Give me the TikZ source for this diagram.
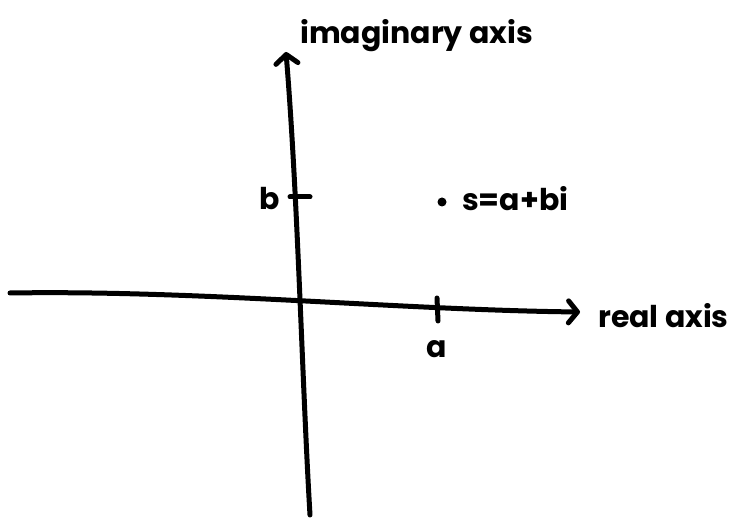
\documentclass[tikz,border=0pt]{standalone}
\usepackage{fontspec}
\setmainfont{Poppins}
\usetikzlibrary{arrows.meta}
\tikzset{
  axisline/.style={line width=5pt, line cap=round, line join=round,
    -{Straight Barb[length=9pt,width=22pt,line width=5pt,round]}},
  tickline/.style={line width=5pt, line cap=round},
  lbl/.style={font=\fontsize{30}{30}\selectfont\bfseries, inner sep=0pt},
}
\begin{document}
\begin{tikzpicture}[x=1pt,y=-1pt]
\useasboundingbox (0,0) rectangle (732,518);
% horizontal axis
\coordinate (hstart) at (10,293);
\coordinate (hend) at (580,312);
\draw[axisline] (hstart) .. controls (200,290) and (400,310) .. (hend);
% vertical axis
\coordinate (vstart) at (310,515);
\coordinate (vend) at (286,52);
\draw[axisline] (vstart) .. controls (302,380) and (298,200) .. (vend);
% ticks
\coordinate (bt1) at (290,197);
\coordinate (bt2) at (310,197);
\draw[tickline] (bt1) -- (bt2);
\coordinate (at1) at (437,298);
\coordinate (at2) at (438,321);
\draw[tickline] (at1) -- (at2);
% labels
\node[lbl, anchor=base] (blbl) at (270,210) {b};
\node[lbl, anchor=base] (albl) at (437,358) {a};
\node[fill=black, circle, inner sep=0pt, minimum size=9pt] (s) at (442,202) {};
\node[lbl, anchor=base west] (slbl) at (462,211) {s=a+bi};
\node[lbl, anchor=base west] (real) at (598,328) {real axis};
\node[lbl, anchor=base west] (imag) at (300,44) {imaginary axis};
\end{tikzpicture}
\end{document}
